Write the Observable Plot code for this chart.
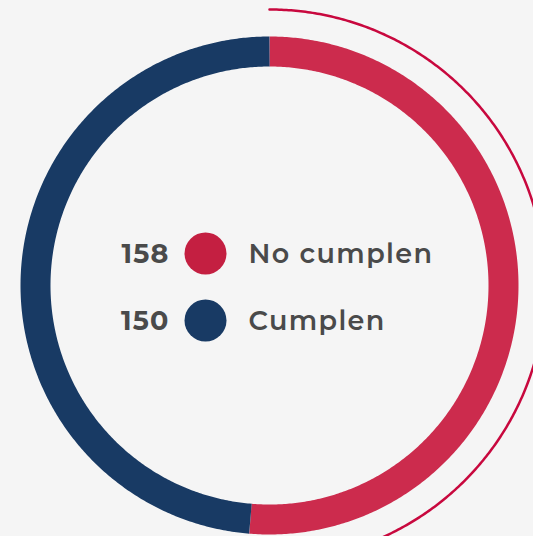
<!DOCTYPE html>
<html>
<head>
<meta charset="utf-8">
<script src="https://cdn.jsdelivr.net/npm/d3@7"></script>
<script src="https://cdn.jsdelivr.net/npm/@observablehq/plot@0.6"></script>
<style>
  html, body { margin: 0; padding: 0; background: #f5f5f5; }
  #chart svg { display: block; }
  .num text { letter-spacing: 1.2px; }
  .lab text { letter-spacing: 1.4px; }
</style>
</head>
<body>
<div id="chart"></div>
<script>
// Data
const categories = ["No cumplen", "Cumplen"];
const values = [158, 150];
const colors = ["#cc2b4d", "#183a64"];
const dotColors = ["#c41f41", "#183a64"];
const accentColor = "#c8083e";

// Layout constants (pixel-like units, center at 0,0)
const W = 533, H = 536;
const cx = 269, cy = 285;
const ringR = 234;      // mid radius of ring
const ringW = 30;       // ring thickness
const accentR = 276;    // thin outer arc radius

const pie = d3.pie().sort(null).value(d => d.value);
const arcs = pie(categories.map((c, i) => ({category: c, value: values[i], color: colors[i]})));

function sampleArc(a0, a1, r, key) {
  const n = Math.max(2, Math.ceil((a1 - a0) / (Math.PI / 360)));
  return d3.range(n + 1).map(k => {
    const a = a0 + (a1 - a0) * k / n;
    return {x: r * Math.sin(a), y: r * Math.cos(a), key};
  });
}

const ringPts = arcs.flatMap(a => sampleArc(a.startAngle, a.endAngle, ringR, a.data.category));
const accentPts = sampleArc(arcs[0].startAngle, arcs[0].endAngle, accentR, "accent");

const legend = categories.map((c, i) => ({category: c, value: values[i], color: dotColors[i], y: i === 0 ? 32 : -35}));

const chart = Plot.plot({
  width: W,
  height: H,
  margin: 0,
  style: {background: "#f5f5f5", fontFamily: "Montserrat, 'Open Sans', sans-serif"},
  x: {domain: [-cx, W - cx], axis: null},
  y: {domain: [-(H - cy), cy], axis: null},
  color: {domain: categories, range: colors},
  marks: [
    Plot.line(accentPts, {x: "x", y: "y", stroke: accentColor, strokeWidth: 2.5, curve: "linear"}),
    Plot.line(ringPts, {x: "x", y: "y", z: "key", stroke: "key", strokeWidth: ringW, strokeLinecap: "butt", strokeLinejoin: "round", curve: "linear"}),
    Plot.dot(legend, {x: () => -64, y: "y", r: 21, fill: "color", stroke: "none"}),
    Plot.text(legend, {x: () => -100, y: "y", text: d => String(d.value), textAnchor: "end", fontSize: 27, fontWeight: 700, fill: "#4a4a4a", dy: 1, className: "num"}),
    Plot.text(legend, {x: () => -21, y: "y", text: "category", textAnchor: "start", fontSize: 27, fontWeight: 600, fill: "#4a4a4a", dy: 1, className: "lab"})
  ]
});
document.getElementById("chart").appendChild(chart);
</script>
</body>
</html>
